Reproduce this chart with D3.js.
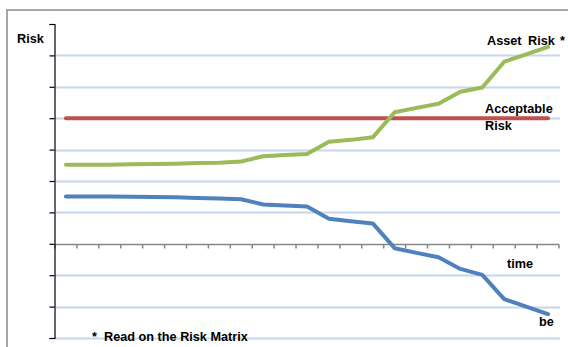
<!DOCTYPE html>
<html>
<head>
<meta charset="utf-8">
<script src="https://cdn.jsdelivr.net/npm/d3@7"></script>
<style>
  html, body { margin: 0; padding: 0; background: #fff; }
  svg { display: block; }
  text { font-family: "Liberation Sans", Arial, sans-serif; font-weight: bold; fill: #000; }
</style>
</head>
<body>
<svg id="chart" width="568" height="347"></svg>
<script>
// Time periods along the horizontal axis
const periods = d3.range(1, 24).map(i => "t" + i);

// Risk level of the asset over time
const assetRisk = [2.52, 2.52, 2.52, 2.53, 2.54, 2.55, 2.57, 2.58, 2.62, 2.79, 2.83, 2.86,
                   3.25, 3.31, 3.39, 4.19, 4.33, 4.46, 4.84, 4.98, 5.80, 6.03, 6.27];

// Acceptable risk threshold (constant)
const acceptableRisk = periods.map(() => 4.0);

// Lower curve
const lowerCurve = [1.51, 1.51, 1.51, 1.50, 1.49, 1.48, 1.46, 1.44, 1.42, 1.25, 1.22, 1.19,
                    0.80, 0.72, 0.65, -0.14, -0.29, -0.43, -0.80, -0.99, -1.76, -2.00, -2.24];

// Value axis ticks
const yTicks = d3.range(-3, 8);

const svg = d3.select("#chart");

// Frame around the chart area
svg.append("path")
  .attr("d", "M7,350 L7,10 L570,10")
  .attr("fill", "none")
  .attr("stroke", "#a6a6a6")
  .attr("stroke-width", 2);

const x = d3.scaleBand().domain(periods).range([55, 559]).paddingInner(0).paddingOuter(0);
const y = d3.scaleLinear().domain([-3, 7]).range([338, 24]);
const cx = d => x(d) + x.bandwidth() / 2;

// Horizontal gridlines
svg.append("g")
  .selectAll("line")
  .data(yTicks.filter(t => t !== 0 && t !== 7))
  .join("line")
  .attr("x1", 55).attr("x2", 560)
  .attr("y1", d => Math.round(y(d)) + 0.5)
  .attr("y2", d => Math.round(y(d)) + 0.5)
  .attr("stroke", "#c8d6ee")
  .attr("stroke-width", 2);

// Horizontal axis at zero with tick marks at period boundaries
const xAxis = d3.axisBottom(x).tickSize(0).tickFormat("");
const gx = svg.append("g").attr("transform", `translate(0,${Math.round(y(0)) + 0.5})`).call(xAxis);
gx.select(".domain").attr("stroke", "#868686").attr("stroke-width", 1.5).attr("d", "M55,0H559");
gx.selectAll(".boundary")
  .data(periods.map(p => x(p)).concat([x.range()[1]]))
  .join("line")
  .attr("class", "boundary")
  .attr("x1", d => d).attr("x2", d => d)
  .attr("y1", 0).attr("y2", 4)
  .attr("stroke", "#868686")
  .attr("stroke-width", 1.5);

// Vertical axis
const yAxis = d3.axisLeft(y).tickValues(yTicks).tickSize(5).tickFormat("");
const gy = svg.append("g").attr("transform", "translate(54.5,0)").call(yAxis);
gy.select(".domain").attr("stroke", "#000").attr("stroke-width", 1.2);
gy.selectAll(".tick line").attr("stroke", "#000").attr("stroke-width", 1.2);

// Series lines
const line = d3.line().x((d, i) => cx(periods[i])).y(d => y(d));
const series = [
  { values: acceptableRisk, color: "#c0504d" },
  { values: lowerCurve, color: "#4f81bd" },
  { values: assetRisk, color: "#9bbb59" }
];
svg.append("g")
  .selectAll("path")
  .data(series)
  .join("path")
  .attr("d", d => line(d.values))
  .attr("fill", "none")
  .attr("stroke", d => d.color)
  .attr("stroke-width", 4)
  .attr("stroke-linejoin", "round")
  .attr("stroke-linecap", "round");

// Text labels
const labels = [
  { t: "Risk", x: 17, y: 43 },
  { t: "Asset", x: 487, y: 45 },
  { t: "Risk", x: 528, y: 45 },
  { t: "*", x: 560, y: 45 },
  { t: "Acceptable", x: 485, y: 113 },
  { t: "Risk", x: 485, y: 130 },
  { t: "time", x: 507, y: 268 },
  { t: "be", x: 539, y: 326 },
  { t: "*", x: 92, y: 341 },
  { t: "Read on the Risk Matrix", x: 104, y: 341 }
];
svg.append("g")
  .selectAll("text")
  .data(labels)
  .join("text")
  .attr("x", d => d.x)
  .attr("y", d => d.y)
  .attr("font-size", 12.7)
  .text(d => d.t);
</script>
</body>
</html>
